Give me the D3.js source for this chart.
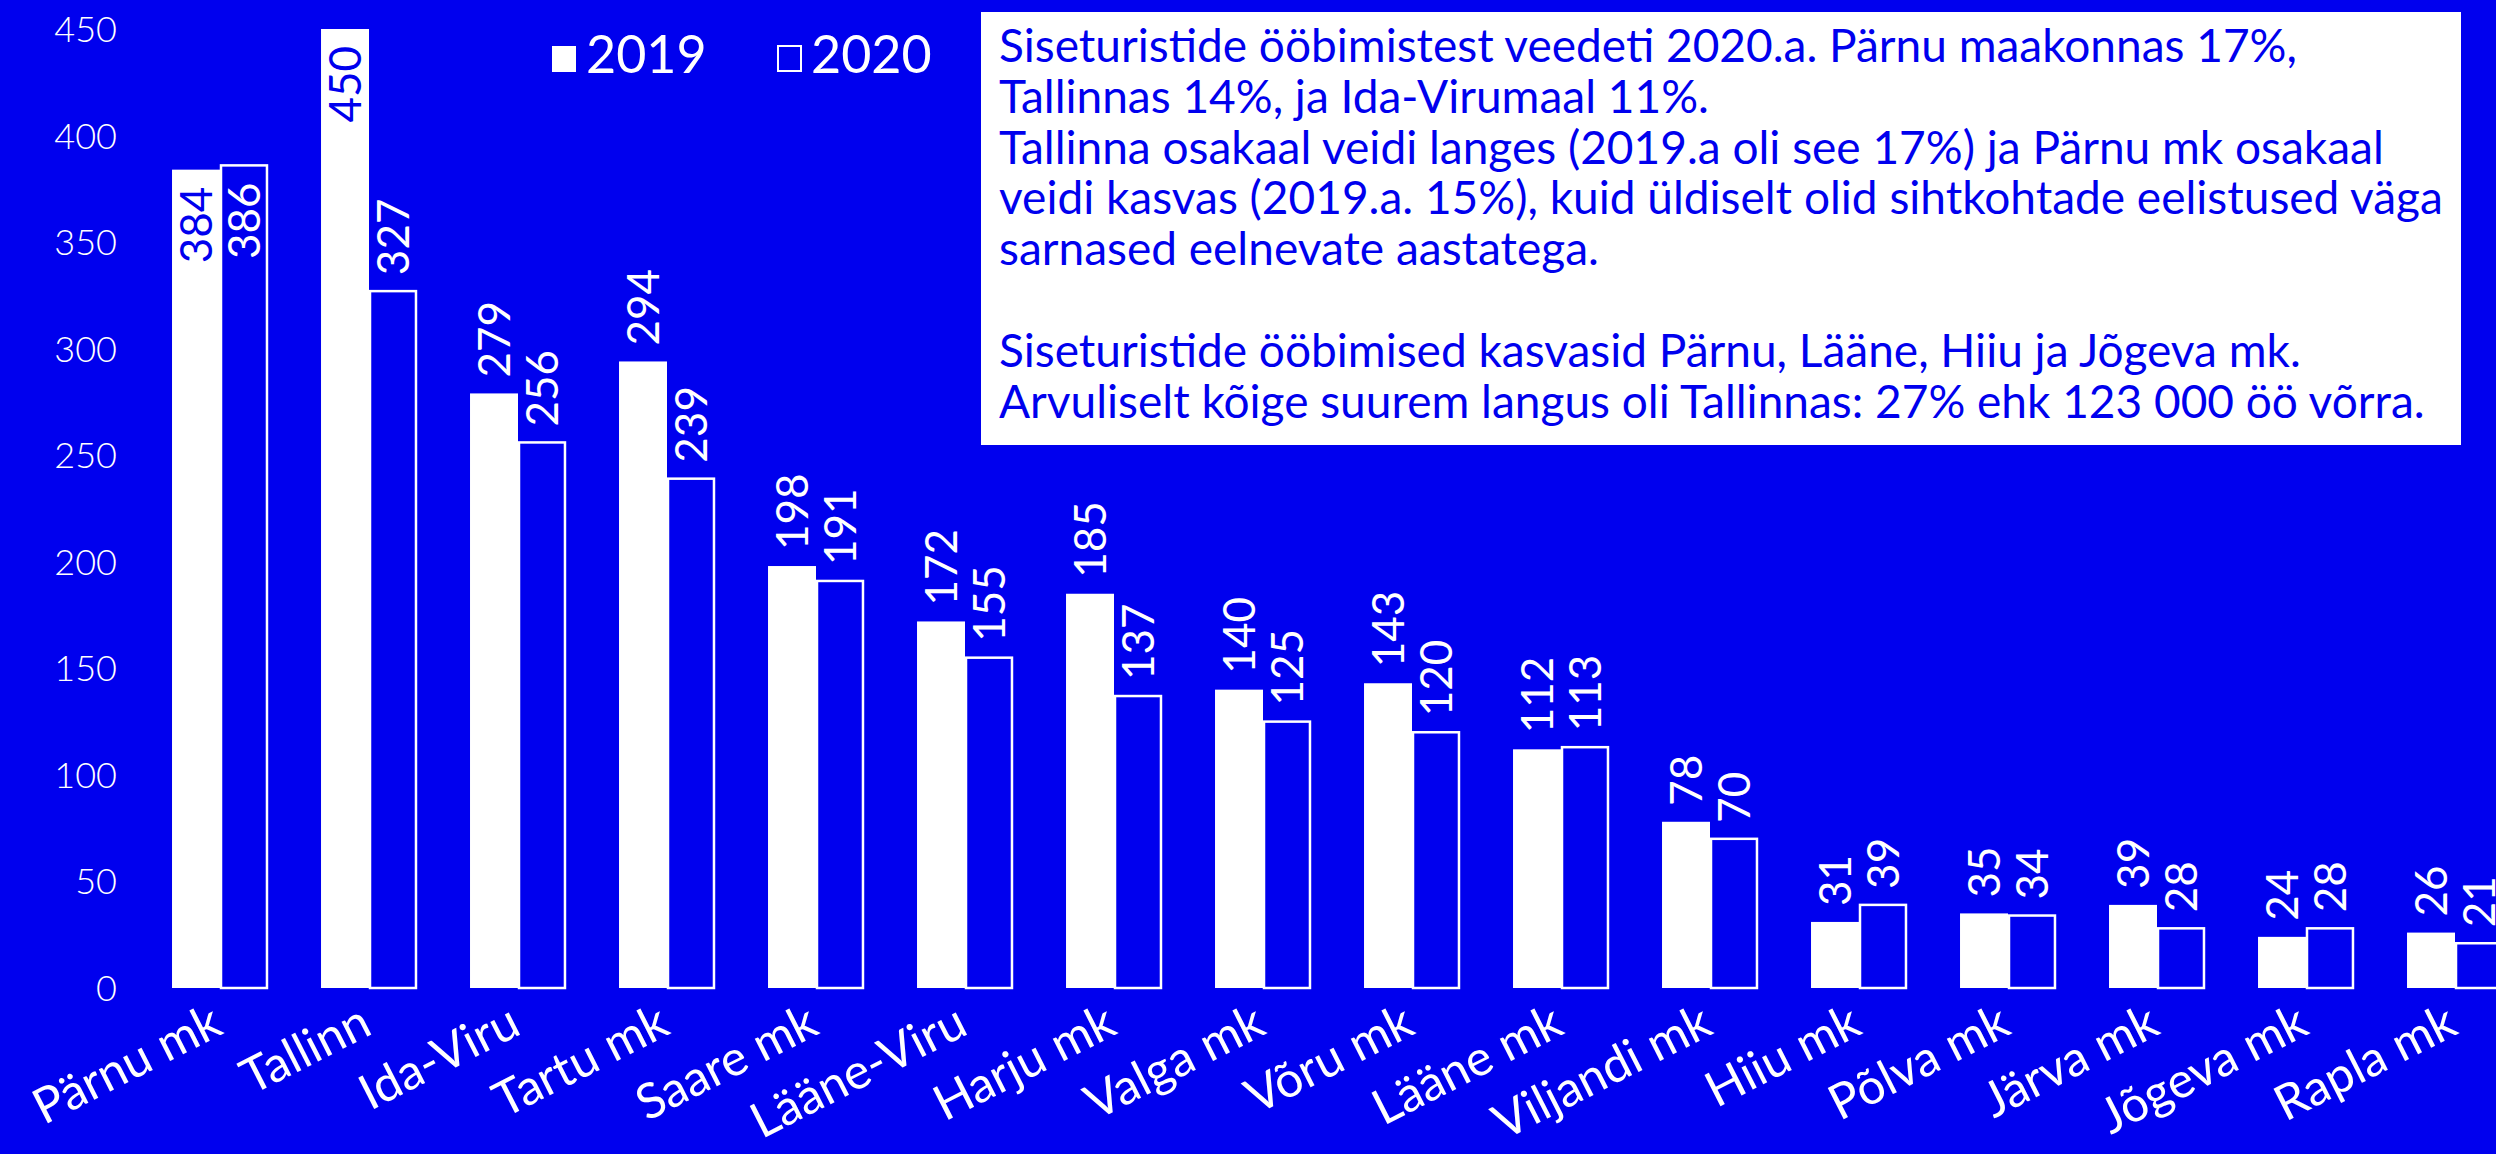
<!DOCTYPE html>
<html>
<head>
<meta charset="utf-8">
<script src="https://cdn.jsdelivr.net/npm/d3@7"></script>
<style>
  html, body { margin: 0; padding: 0; background: #0000ee; }
  svg { display: block; }
</style>
</head>
<body>
<svg id="chart" width="2496" height="1154"></svg>
<script>
const categories = ['Pärnu mk', 'Tallinn', 'Ida-Viru', 'Tartu mk', 'Saare mk', 'Lääne-Viru',
  'Harju mk', 'Valga mk', 'Võru mk', 'Lääne mk', 'Viljandi mk', 'Hiiu mk', 'Põlva mk',
  'Järva mk', 'Jõgeva mk', 'Rapla mk'];
const values2019 = [384, 450, 279, 294, 198, 172, 185, 140, 143, 112, 78, 31, 35, 39, 24, 26];
const values2020 = [386, 327, 256, 239, 191, 155, 137, 125, 120, 113, 70, 39, 34, 28, 28, 21];
const years = ['2019', '2020'];
const yTicks = [0, 50, 100, 150, 200, 250, 300, 350, 400, 450];
const noteLines = [
  'Siseturistide ööbimistest veedeti 2020.a. Pärnu maakonnas 17%,',
  'Tallinnas 14%, ja Ida-Virumaal 11%.',
  'Tallinna osakaal veidi langes (2019.a oli see 17%) ja Pärnu mk osakaal',
  'veidi kasvas (2019.a. 15%), kuid üldiselt olid sihtkohtade eelistused väga',
  'sarnased eelnevate aastatega.',
  '',
  'Siseturistide ööbimised kasvasid Pärnu, Lääne, Hiiu ja Jõgeva mk.',
  'Arvuliselt kõige suurem langus oli Tallinnas: 27% ehk 123 000 öö võrra.'
];

const blue = '#0000ee';
const font = 'Lato, "Open Sans", sans-serif';
const svg = d3.select('#chart');

svg.append('rect').attr('width', 2496).attr('height', 1154).attr('fill', blue);

const data = categories.map((c, i) => ({ cat: c, v: [values2019[i], values2020[i]] }));

const step = 149;
const x0 = 145.5;
const xScale = d3.scaleBand()
  .domain(categories)
  .range([x0, x0 + step * categories.length])
  .paddingInner(0.356)
  .paddingOuter(0.178);

const xInner = d3.scaleBand()
  .domain(years)
  .range([0, xScale.bandwidth()]);

const yScale = d3.scaleLinear()
  .domain([0, 450])
  .range([988, 29]);

// y axis labels
svg.append('g')
  .selectAll('text')
  .data(yTicks)
  .join('text')
  .attr('x', 117)
  .attr('y', (d) => yScale(d))
  .attr('dy', '0.36em')
  .attr('text-anchor', 'end')
  .attr('fill', 'white')
  .attr('font-family', font)
  .attr('font-weight', 300)
  .attr('font-size', 36)
  .text((d) => d);

const groups = svg.append('g')
  .selectAll('g.group')
  .data(data)
  .join('g')
  .attr('class', 'group')
  .attr('transform', (d) => `translate(${xScale(d.cat)},0)`);

const bars = groups.selectAll('g.bar')
  .data((d) => d.v.map((v, j) => ({ year: years[j], v })))
  .join('g')
  .attr('class', 'bar');

bars.append('rect')
  .attr('x', (d) => xInner(d.year) + (d.year === '2020' ? 1 : 0))
  .attr('y', (d) => yScale(d.v))
  .attr('width', (d) => xInner.bandwidth() - (d.year === '2020' ? 2 : 0))
  .attr('height', (d) => yScale(0) - yScale(d.v))
  .attr('fill', (d) => (d.year === '2019' ? 'white' : blue))
  .attr('stroke', (d) => (d.year === '2019' ? 'none' : 'white'))
  .attr('stroke-width', 2.5);

// value labels, rotated; the tallest ones sit inside the bar
bars.append('text')
  .attr('transform', (d) => {
    const cx = xInner(d.year) + xInner.bandwidth() / 2;
    const inside = d.v > 350;
    const y = inside ? yScale(d.v) + 17 : yScale(d.v) - 16;
    return `translate(${cx},${y}) rotate(-90)`;
  })
  .attr('dy', '0.36em')
  .attr('text-anchor', (d) => (d.v > 350 ? 'end' : 'start'))
  .attr('fill', (d) => (d.v > 350 && d.year === '2019' ? blue : 'white'))
  .attr('font-family', font)
  .attr('font-size', 44)
  .text((d) => d.v);

// category labels
svg.append('g')
  .selectAll('text')
  .data(categories)
  .join('text')
  .attr('transform', (d) => `translate(${xScale(d) + xScale.bandwidth() / 2 + 5},1033) rotate(-27)`)
  .attr('text-anchor', 'end')
  .attr('fill', 'white')
  .attr('font-family', font)
  .attr('font-size', 49)
  .text((d) => d);

// legend
const legend = svg.append('g').selectAll('g')
  .data(years)
  .join('g')
  .attr('transform', (d, i) => `translate(${552 + i * 225},0)`);

legend.append('rect')
  .attr('x', (d, i) => (i === 0 ? 0 : 1))
  .attr('y', 46)
  .attr('width', (d, i) => (i === 0 ? 24 : 23))
  .attr('height', (d, i) => (i === 0 ? 26 : 25))
  .attr('fill', (d, i) => (i === 0 ? 'white' : blue))
  .attr('stroke', (d, i) => (i === 0 ? 'none' : 'white'))
  .attr('stroke-width', 2);

legend.append('text')
  .attr('x', 34)
  .attr('y', 73)
  .attr('fill', 'white')
  .attr('font-family', font)
  .attr('font-size', 52)
  .text((d) => d);

// note box
svg.append('rect')
  .attr('x', 981)
  .attr('y', 12)
  .attr('width', 1480)
  .attr('height', 433)
  .attr('fill', 'white');

svg.append('g')
  .selectAll('text')
  .data(noteLines)
  .join('text')
  .attr('x', 999)
  .attr('y', (d, i) => 62 + i * 50.8)
  .attr('fill', blue)
  .attr('font-family', font)
  .attr('font-size', 46)
  .text((d) => d);
</script>
</body>
</html>
